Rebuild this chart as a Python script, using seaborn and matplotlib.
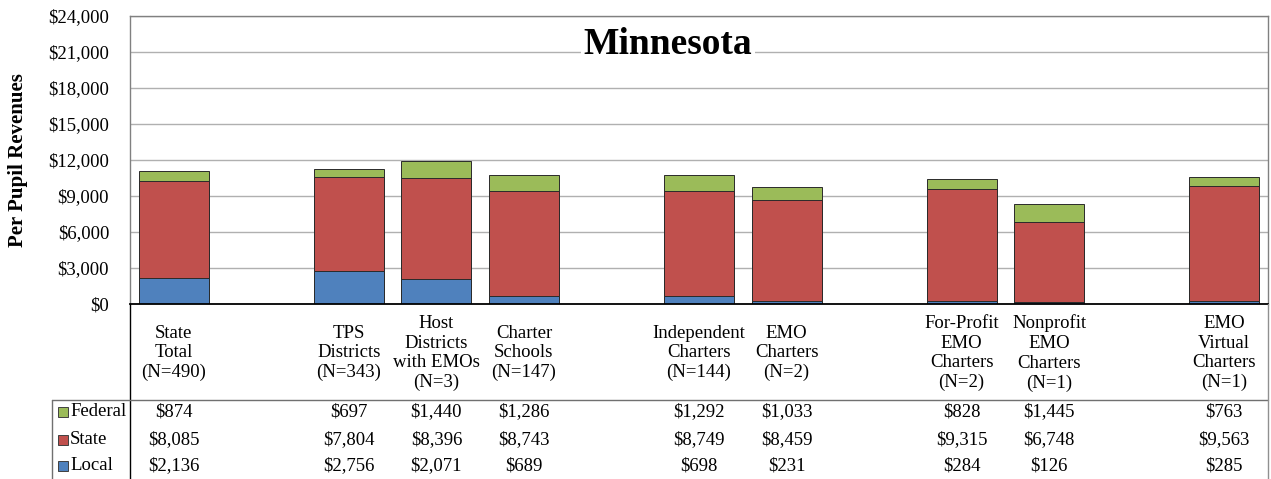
import matplotlib
matplotlib.use("Agg")
import matplotlib.pyplot as plt
import matplotlib.transforms as mtrans
from matplotlib.lines import Line2D
from matplotlib.patches import Rectangle
import seaborn as sns
import pandas as pd

# categories (gaps are empty slots in the chart)
slots = ["State Total", "gap1", "TPS", "Host", "Charter", "gap2",
         "Independent", "EMO", "gap3", "ForProfit", "Nonprofit", "gap4", "Virtual"]
categories = ["State Total", "TPS", "Host", "Charter", "Independent", "EMO",
              "ForProfit", "Nonprofit", "Virtual"]
header_labels = ["State\nTotal\n(N=490)", "TPS\nDistricts\n(N=343)",
                 "Host\nDistricts\nwith EMOs\n(N=3)", "Charter\nSchools\n(N=147)",
                 "Independent\nCharters\n(N=144)", "EMO\nCharters\n(N=2)",
                 "For-Profit\nEMO\nCharters\n(N=2)", "Nonprofit\nEMO\nCharters\n(N=1)",
                 "EMO\nVirtual\nCharters\n(N=1)"]
federal = [874, 697, 1440, 1286, 1292, 1033, 828, 1445, 763]
state = [8085, 7804, 8396, 8743, 8749, 8459, 9315, 6748, 9563]
local = [2136, 2756, 2071, 689, 698, 231, 284, 126, 285]

c_fed = "#9BBB59"
c_state = "#C0504D"
c_local = "#4F81BD"

df = pd.DataFrame({"cat": categories, "federal": federal, "state": state, "local": local})
df["top"] = df["federal"] + df["state"] + df["local"]
df["mid"] = df["state"] + df["local"]

sns.set_style("white")
plt.rcParams["font.family"] = ["Liberation Serif", "DejaVu Serif"]
plt.rcParams["text.color"] = "black"
plt.rcParams["ytick.color"] = "black"

W, H = 1271, 479
fig = plt.figure(figsize=(W / 100, H / 100), dpi=100)
ax = fig.add_axes([130 / W, 1 - 304 / H, (1268 - 130) / W, (304 - 16) / H])

def fx(px):
    return px / W

def fy(py):
    return 1 - py / H

# stacked bars drawn as cumulative overlays
for col, color in [("top", c_fed), ("mid", c_state), ("local", c_local)]:
    sns.barplot(data=df, x="cat", y=col, order=slots, color=color, saturation=1,
                errorbar=None, width=0.8, edgecolor="#2a2a2a", linewidth=0.7, ax=ax)

ax.set_ylim(0, 24000)
ax.set_xlim(-0.5, len(slots) - 0.5)
ax.set_yticks(range(0, 24001, 3000))
ax.set_yticklabels([f"${v:,}" for v in range(0, 24001, 3000)], fontsize=13.5)
ax.tick_params(axis="y", length=0, pad=15)
ax.set_xticks([])
ax.set_xlabel("")
ax.set_ylabel("")
ax.grid(axis="y", color="#B0B0B0", linewidth=1)
ax.set_axisbelow(True)
for s in ["top", "right", "left"]:
    ax.spines[s].set_color("#808080")
    ax.spines[s].set_linewidth(1)
ax.spines["bottom"].set_color("black")
ax.spines["bottom"].set_linewidth(1.3)

ax.text(fx(668), fy(45), "Minnesota", transform=fig.transFigure, ha="center", va="center",
        fontsize=27, fontweight="bold",
        bbox=dict(facecolor="white", edgecolor="none", pad=2))

fig.text(fx(18), fy(160), "Per Pupil Revenues", rotation=90, ha="center", va="center",
         fontsize=15, fontweight="bold")

# data table under the chart
blend = mtrans.blended_transform_factory(ax.transData, fig.transFigure)
xpos = [slots.index(c) for c in categories]
row_y = [412, 440, 466]
rows = [federal, state, local]
for i, x in enumerate(xpos):
    fig.text(x, fy(353), header_labels[i], transform=blend, ha="center", va="center",
             fontsize=13.5, linespacing=1.2)
    for vals, ry in zip(rows, row_y):
        fig.text(x, fy(ry), f"${vals[i]:,}", transform=blend, ha="center", va="center",
                 fontsize=13.5)

names = ["Federal", "State", "Local"]
colors = [c_fed, c_state, c_local]
for name, col, ry in zip(names, colors, row_y):
    fig.add_artist(Rectangle((fx(58), fy(ry + 5)), 10 / W, 10 / H, transform=fig.transFigure,
                             facecolor=col, edgecolor="#404040", linewidth=0.7))
    fig.text(fx(70), fy(ry), name, ha="left", va="center", fontsize=13.5)

lines = [
    ((130, 130), (304, 479), "black"),
    ((52, 1268), (400, 400), "#707070"),
    ((52, 52), (400, 479), "#707070"),
    ((1268, 1268), (304, 479), "#909090"),
]
for xs, ys, col in lines:
    fig.add_artist(Line2D([fx(v) for v in xs], [fy(v) for v in ys], transform=fig.transFigure,
                          color=col, linewidth=1))

fig.savefig("out.png", dpi=100)
